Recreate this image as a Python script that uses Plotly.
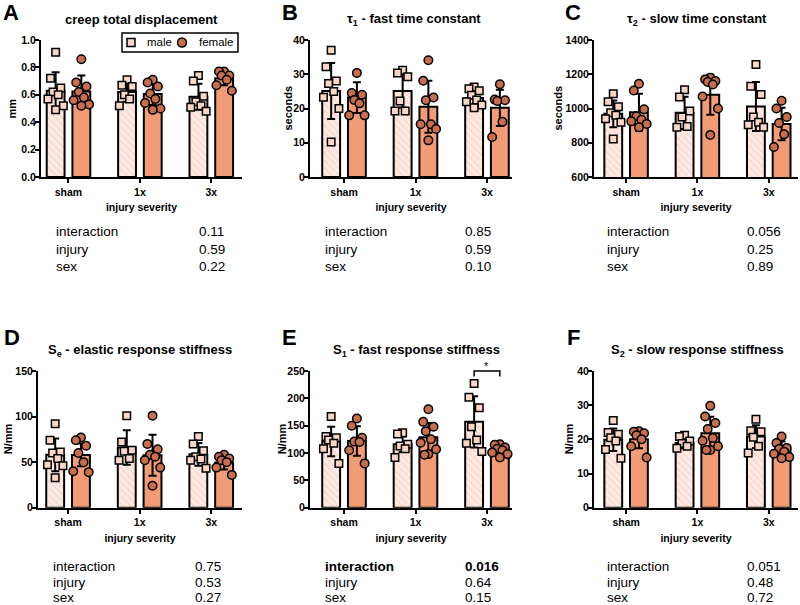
import plotly.graph_objects as go

W, H = 800, 605
FONT = "Liberation Sans, Arial, Helvetica, sans-serif"

groups = ["sham", "1x", "3x"]
stat_names = ["interaction", "injury", "sex"]

# ---------------- data ----------------
# A: creep total displacement (mm)
A_male_pts = [[0.91, 0.72, 0.65, 0.62, 0.60, 0.57, 0.52, 0.49],
              [0.71, 0.67, 0.66, 0.60, 0.57, 0.52],
              [0.74, 0.70, 0.59, 0.55, 0.52, 0.51, 0.48]]
A_female_pts = [[0.86, 0.69, 0.66, 0.62, 0.58, 0.56, 0.53, 0.52],
                [0.71, 0.69, 0.66, 0.61, 0.57, 0.54, 0.50, 0.49],
                [0.77, 0.77, 0.74, 0.74, 0.71, 0.67, 0.63]]
A_male_mean = [0.63, 0.62, 0.585]
A_male_sd = [0.135, 0.07, 0.095]
A_female_mean = [0.625, 0.605, 0.72]
A_female_sd = [0.115, 0.08, 0.05]
A_stats = ["0.11", "0.59", "0.22"]

# B: tau1 fast time constant (seconds)
B_male_pts = [[37.0, 32.2, 28.0, 27.3, 25.0, 23.3, 20.0, 10.2],
              [31.2, 30.4, 29.3, 22.2, 19.3, 19.3],
              [26.3, 25.8, 25.2, 23.9, 22.5, 22.0, 21.0, 20.2]]
B_female_pts = [[30.4, 24.5, 24.0, 22.5, 21.5, 18.0, 18.0],
                [34.1, 28.1, 23.2, 22.4, 15.4, 15.4, 14.0, 10.7],
                [27.1, 22.6, 22.4, 22.2, 16.1, 11.7]]
B_male_mean = [25.1, 25.1, 23.1]
B_male_sd = [8.2, 4.8, 2.2]
B_female_mean = [23.2, 20.5, 20.2]
B_female_sd = [4.5, 7.6, 5.3]
B_stats = ["0.85", "0.59", "0.10"]

# C: tau2 slow time constant (seconds)
C_male_pts = [[1086, 1040, 1010, 975, 960, 940, 920, 822],
              [1110, 1067, 985, 950, 895, 890],
              [1257, 1130, 1082, 950, 920, 905, 890]]
C_female_pts = [[1145, 1105, 995, 955, 935, 925, 910, 890],
                [1180, 1170, 1160, 1155, 1140, 1070, 1000, 845],
                [1045, 1000, 950, 915, 850, 775]]
C_male_mean = [969, 975, 1012]
C_male_sd = [78, 94, 143]
C_female_mean = [978, 1080, 910]
C_female_sd = [108, 117, 95]
C_stats = ["0.056", "0.25", "0.89"]

# D: Se elastic response stiffness (N/mm)
D_male_pts = [[92, 74, 61, 60, 54, 47, 46, 33],
              [101, 72, 63, 62, 54, 52],
              [78, 70, 62.6, 56, 53.5, 52, 43.2]]
D_female_pts = [[77, 74, 68, 60, 50, 40, 39],
                [101, 70, 64, 58, 56, 52, 44, 24],
                [58, 56, 54, 52, 50, 44, 36]]
D_male_mean = [58, 66, 58.6]
D_male_sd = [18, 19, 12.5]
D_female_mean = [57.9, 57.5, 49.5]
D_female_sd = [12.5, 22.5, 7.5]
D_stats = ["0.75", "0.53", "0.27"]

# E: S1 fast response stiffness (N/mm)
E_male_pts = [[167, 130, 128, 124, 118, 108, 81],
              [137, 135, 116, 113, 108, 92],
              [227, 202, 183, 148, 124, 118, 103]]
E_female_pts = [[163, 150, 128, 121, 120, 105, 81],
                [180, 157, 148, 140, 125, 119, 107, 98, 97],
                [116, 115, 110, 108, 105, 101, 98, 92]]
E_male_mean = [121, 116, 157]
E_male_sd = [27, 14, 47]
E_female_mean = [122, 129, 105.5]
E_female_sd = [27, 26, 8]
E_stats = ["0.016", "0.64", "0.15"]

# F: S2 slow response stiffness (N/mm)
F_male_pts = [[25.5, 22.0, 21.5, 20.5, 19.5, 17.0, 14.5],
              [21.2, 20.8, 19.5, 18.8, 18.0, 17.4],
              [25.9, 22.5, 22.2, 20.6, 18.0, 16.0]]
F_female_pts = [[22.4, 22.2, 21.8, 21.2, 20.0, 18.0, 14.7],
                [29.8, 26.7, 24.8, 23.0, 20.4, 19.6, 18.0, 16.9, 16.9],
                [20.8, 18.9, 17.5, 17.2, 16.4, 15.8, 14.8, 14.5]]
F_male_mean = [19.9, 18.9, 20.8]
F_male_sd = [3.3, 1.5, 3.3]
F_female_mean = [20.0, 21.8, 16.9]
F_female_sd = [2.6, 4.8, 2.5]
F_stats = ["0.051", "0.48", "0.72"]

# ---------------- styling / layout ----------------
def px(x):
    return x / W


def py(y):
    return 1 - y / H


MALE_BAR = "rgb(253,234,226)"
MALE_HATCH = "rgb(244,192,172)"
FEMALE_BAR = "rgb(242,156,118)"
MALE_PT = "rgb(250,214,198)"
FEMALE_PT = "rgb(199,110,76)"

OFF = 0.18   # half-distance between male/female bars (category units)
BW = 0.25    # bar width
JW = 0.12    # jitter width
JIT = [0.0, -0.6, 0.6, -0.3, 0.3, -0.9, 0.9, 0.0, -0.45, 0.45]

panels = [
    dict(letter="A", title="creep total displacement", ytitle="mm",
         yrange=[0, 1], ytick=[0, 0.2, 0.4, 0.6, 0.8, 1.0], yfmt=".1f",
         xl=41, xr=242, xrange=[-0.385, 2.43], row=0,
         mp=A_male_pts, fp=A_female_pts, mm=A_male_mean, ms=A_male_sd,
         fm=A_female_mean, fs=A_female_sd, stats=A_stats, lx=54, vx=197,
         letter_x=1, title_x=141, ytx=11),
    dict(letter="B", title="τ<sub>1</sub> - fast time constant", ytitle="seconds",
         yrange=[0, 40], ytick=[0, 10, 20, 30, 40], yfmt="d",
         xl=310, xr=512, xrange=[-0.476, 2.35], row=0,
         mp=B_male_pts, fp=B_female_pts, mm=B_male_mean, ms=B_male_sd,
         fm=B_female_mean, fs=B_female_sd, stats=B_stats, lx=323, vx=463,
         letter_x=280, title_x=414, ytx=287),
    dict(letter="C", title="τ<sub>2</sub> - slow time constant", ytitle="seconds",
         yrange=[600, 1400], ytick=[600, 800, 1000, 1200, 1400], yfmt="d",
         xl=594, xr=798, xrange=[-0.45, 2.41], row=0,
         mp=C_male_pts, fp=C_female_pts, mm=C_male_mean, ms=C_male_sd,
         fm=C_female_mean, fs=C_female_sd, stats=C_stats, lx=605, vx=745,
         letter_x=563, title_x=697, ytx=557),
    dict(letter="D", title="S<sub>e</sub> - elastic response stiffness", ytitle="N/mm",
         yrange=[0, 150], ytick=[0, 50, 100, 150], yfmt="d",
         xl=38, xr=242, xrange=[-0.42, 2.43], row=1,
         mp=D_male_pts, fp=D_female_pts, mm=D_male_mean, ms=D_male_sd,
         fm=D_female_mean, fs=D_female_sd, stats=D_stats, lx=51, vx=193,
         letter_x=2, title_x=140, ytx=8),
    dict(letter="E", title="S<sub>1</sub> - fast response stiffness", ytitle="N/mm",
         yrange=[0, 250], ytick=[0, 50, 100, 150, 200, 250], yfmt="d",
         xl=310, xr=512, xrange=[-0.476, 2.35], row=1,
         mp=E_male_pts, fp=E_female_pts, mm=E_male_mean, ms=E_male_sd,
         fm=E_female_mean, fs=E_female_sd, stats=E_stats, lx=323, vx=463,
         letter_x=280, title_x=416, ytx=282, bold_first=True),
    dict(letter="F", title="S<sub>2</sub> - slow response stiffness", ytitle="N/mm",
         yrange=[0, 40], ytick=[0, 10, 20, 30, 40], yfmt="d",
         xl=594, xr=798, xrange=[-0.45, 2.41], row=1,
         mp=F_male_pts, fp=F_female_pts, mm=F_male_mean, ms=F_male_sd,
         fm=F_female_mean, fs=F_female_sd, stats=F_stats, lx=605, vx=745,
         letter_x=565, title_x=697, ytx=569),
]

ROW_Y = [(40, 177), (371, 507.7)]
TITLE_Y = [19, 350]
LETTER_Y = [12.5, 337.5]
STAT_Y = [[232, 249, 266], [566, 582, 597]]

fig = go.Figure()
annotations = []
shapes = []
layout_axes = {}

for i, p in enumerate(panels):
    sfx = "" if i == 0 else str(i + 1)
    xa, ya = "x" + sfx, "y" + sfx
    gx = list(range(len(groups)))

    for side, means, sds, pts, sym, bar_kw, pcol, msize in (
        (-1, p["mm"], p["ms"], p["mp"], "square",
         dict(color=MALE_BAR, pattern=dict(shape="\\", fgcolor=MALE_HATCH, bgcolor=MALE_BAR,
                                          size=5, solidity=0.25, fillmode="overlay")),
         MALE_PT, 7.5),
        (1, p["fm"], p["fs"], p["fp"], "circle", dict(color=FEMALE_BAR), FEMALE_PT, 8.5),
    ):
        fig.add_trace(go.Bar(
            x=gx, y=means, width=BW, offset=side * OFF - BW / 2,
            marker=dict(line=dict(color="black", width=2), **bar_kw),
            error_y=dict(type="data", array=sds, visible=True, color="black",
                         thickness=2, width=4),
            xaxis=xa, yaxis=ya, showlegend=False, hoverinfo="skip",
        ))
        xs, ys = [], []
        for g, vals in zip(gx, pts):
            for k, v in enumerate(vals):
                xs.append(g + side * OFF + JIT[k % len(JIT)] * JW)
                ys.append(v)
        fig.add_trace(go.Scatter(
            x=xs, y=ys, mode="markers", xaxis=xa, yaxis=ya, showlegend=False,
            marker=dict(symbol=sym, size=msize, color=pcol,
                        line=dict(color="black", width=1.5)),
            cliponaxis=False, hoverinfo="skip",
        ))

    y0, y1 = ROW_Y[p["row"]]
    layout_axes["xaxis" + sfx] = dict(
        domain=[px(p["xl"]), px(p["xr"])], range=p["xrange"], anchor=ya,
        automargin=False,
        tickvals=gx, ticktext=groups, ticks="outside", ticklen=4, tickwidth=2,
        tickcolor="black", showline=True, linecolor="black", linewidth=2,
        showgrid=False, zeroline=False, fixedrange=True,
        tickfont=dict(family=FONT, size=10.5, color="black", weight="bold"),
        title=dict(text="injury severity", standoff=7,
                   font=dict(family=FONT, size=10.5, color="black", weight="bold")),
    )
    layout_axes["yaxis" + sfx] = dict(
        domain=[py(y1), py(y0)], range=p["yrange"], anchor=xa,
        automargin=False,
        tickvals=p["ytick"], tickformat=p["yfmt"], ticks="outside", ticklen=4,
        ticklabelstandoff=-3,
        tickwidth=2, tickcolor="black", showline=True, linecolor="black",
        linewidth=2, showgrid=False, zeroline=False, fixedrange=True,
        tickfont=dict(family=FONT, size=10.5, color="black", weight="bold"),
    )

    annotations.append(dict(text="<b>" + p["ytitle"] + "</b>", xref="paper", yref="paper",
                            x=px(p["ytx"]), y=py((y0 + y1) / 2), textangle=-90,
                            xanchor="center", yanchor="middle", showarrow=False,
                            font=dict(family=FONT, size=11, color="black")))
    annotations.append(dict(text="<b>" + p["letter"] + "</b>", xref="paper", yref="paper",
                            x=px(p["letter_x"]), y=py(LETTER_Y[p["row"]]),
                            xanchor="left", yanchor="middle", showarrow=False,
                            font=dict(family=FONT, size=22, color="black")))
    annotations.append(dict(text="<b>" + p["title"] + "</b>", xref="paper", yref="paper",
                            x=px(p["title_x"]), y=py(TITLE_Y[p["row"]]),
                            xanchor="center", yanchor="middle", showarrow=False,
                            font=dict(family=FONT, size=13, color="black")))
    for r, (name, val) in enumerate(zip(stat_names, p["stats"])):
        bold = p.get("bold_first", False) and r == 0
        t1 = "<b>" + name + "</b>" if bold else name
        t2 = "<b>" + val + "</b>" if bold else val
        yy = py(STAT_Y[p["row"]][r])
        annotations.append(dict(text=t1, xref="paper", yref="paper", x=px(p["lx"]), y=yy,
                                xanchor="left", yanchor="middle", showarrow=False,
                                font=dict(family=FONT, size=13.5, color="black")))
        annotations.append(dict(text=t2, xref="paper", yref="paper", x=px(p["vx"]), y=yy,
                                xanchor="left", yanchor="middle", showarrow=False,
                                font=dict(family=FONT, size=13.5, color="black")))

# significance bracket in E (3x male vs 3x female)
shapes.append(dict(type="path", xref="x5", yref="y5 domain",
                   path=f"M {2 - OFF},0.96 L {2 - OFF},1.0 L {2 + OFF},1.0 L {2 + OFF},0.96",
                   line=dict(color="black", width=1.5)))
annotations.append(dict(text="*", xref="x5", yref="y5 domain", x=2, y=1.0,
                        xanchor="center", yanchor="bottom", showarrow=False, yshift=-3,
                        font=dict(family=FONT, size=11, color="black")))

# legend box in panel A
shapes.append(dict(type="rect", xref="paper", yref="paper",
                   x0=px(122), x1=px(238), y0=py(52), y1=py(33),
                   line=dict(color="black", width=1.5), fillcolor="white"))
shapes.append(dict(type="rect", xref="paper", yref="paper", xsizemode="pixel",
                   ysizemode="pixel", xanchor=px(131), yanchor=py(42.5),
                   x0=-4, x1=4, y0=-4, y1=4, fillcolor=MALE_PT,
                   line=dict(color="black", width=1.5)))
shapes.append(dict(type="circle", xref="paper", yref="paper", xsizemode="pixel",
                   ysizemode="pixel", xanchor=px(182), yanchor=py(42.5),
                   x0=-4.5, x1=4.5, y0=-4.5, y1=4.5, fillcolor=FEMALE_PT,
                   line=dict(color="black", width=1.5)))
annotations.append(dict(text="male", xref="paper", yref="paper", x=px(145), y=py(42.5),
                        xanchor="left", yanchor="middle", showarrow=False,
                        font=dict(family=FONT, size=11.5, color="black")))
annotations.append(dict(text="female", xref="paper", yref="paper", x=px(197), y=py(42.5),
                        xanchor="left", yanchor="middle", showarrow=False,
                        font=dict(family=FONT, size=11.5, color="black")))

fig.update_layout(
    template="none",
    width=W, height=H, margin=dict(l=0, r=0, t=0, b=0, autoexpand=False),
    paper_bgcolor="white", plot_bgcolor="white", barmode="overlay",
    font=dict(family=FONT, color="black"),
    annotations=annotations, shapes=shapes, showlegend=False,
    **layout_axes,
)

fig.write_html("out.html", config={"displayModeBar": False},
               post_script="document.body.style.margin='0px';")
